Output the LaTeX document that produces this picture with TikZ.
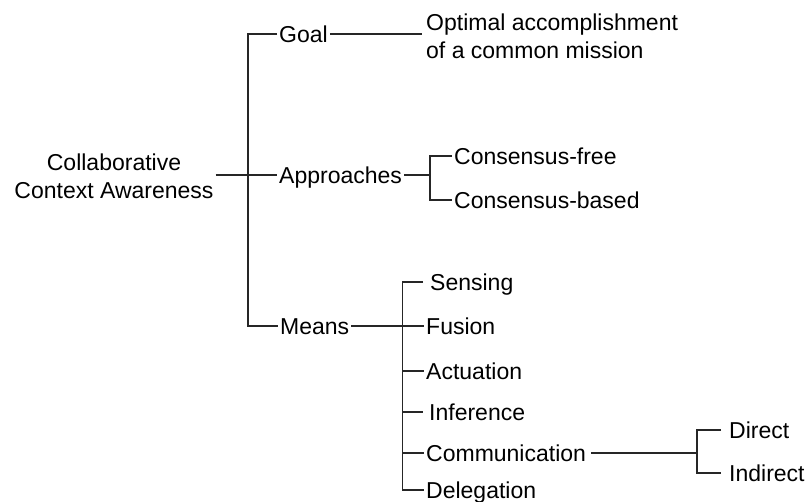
\documentclass[tikz,border=0pt]{standalone}
\usepackage{fontspec}
\setmainfont{Liberation Sans}
\begin{document}
\begin{tikzpicture}[x=1pt,y=-1pt,
  every node/.style={font=\fontsize{23}{28}\selectfont},
  leaf/.style={anchor=west,inner xsep=2pt,inner ysep=0pt,text height=16.5pt,text depth=0pt},
  multi/.style={inner sep=0pt},
  conn/.style={draw=black!85,line width=1.1pt}]
\useasboundingbox (0,0) rectangle (809,502);
% nodes
\node[multi,align=center] (root) at (114,176.5) {Collaborative\\Context Awareness};
\node[leaf] (goal) at (277,34) {Goal};
\node[multi,align=left,anchor=west] (optimal) at (426,36.5) {Optimal accomplishment\\of a common mission};
\node[leaf] (appr) at (277,175) {Approaches};
\node[leaf] (cfree) at (452,156) {Consensus-free};
\node[leaf] (cbased) at (452,200) {Consensus-based};
\node[leaf] (means) at (278,326) {Means};
\node[leaf] (sensing) at (428,282) {Sensing};
\node[leaf] (fusion) at (424,326) {Fusion};
\node[leaf] (actuation) at (424,371) {Actuation};
\node[leaf] (inference) at (427,412) {Inference};
\node[leaf] (comm) at (424,453) {Communication};
\node[leaf] (deleg) at (424,490) {Delegation};
\node[leaf] (direct) at (727,430) {Direct};
\node[leaf] (indirect) at (727,473) {Indirect};
% junction coordinates
\coordinate (j1) at (248,175);
\coordinate (j2) at (430,175);
\coordinate (j3) at (402.5,326);
\coordinate (j4) at (697,453);
% connectors
\draw[conn] ([xshift=2pt]root.east |- appr.west) -- (appr.west);
\draw[conn] (goal.west) -| (j1) |- (means.west);
\draw[conn] (goal.east) -- ([xshift=-4pt]goal.east -| optimal.west);
\draw[conn] (appr.east) -- (j2);
\draw[conn] (cfree.west) -| (j2) |- (cbased.west);
\draw[conn] (means.east) -- (fusion.west);
\draw[conn] ([xshift=-5pt]sensing.west) -| (j3) |- (deleg.west);
\draw[conn] (j3 |- actuation.west) -- (actuation.west);
\draw[conn] (j3 |- inference.west) -- ([xshift=-4pt]inference.west);
\draw[conn] (j3 |- comm.west) -- (comm.west);
\draw[conn] ([xshift=3pt]comm.east) -- (j4);
\draw[conn] ([xshift=-6pt]direct.west) -| (j4) |- ([xshift=-6pt]indirect.west);
\end{tikzpicture}
\end{document}
